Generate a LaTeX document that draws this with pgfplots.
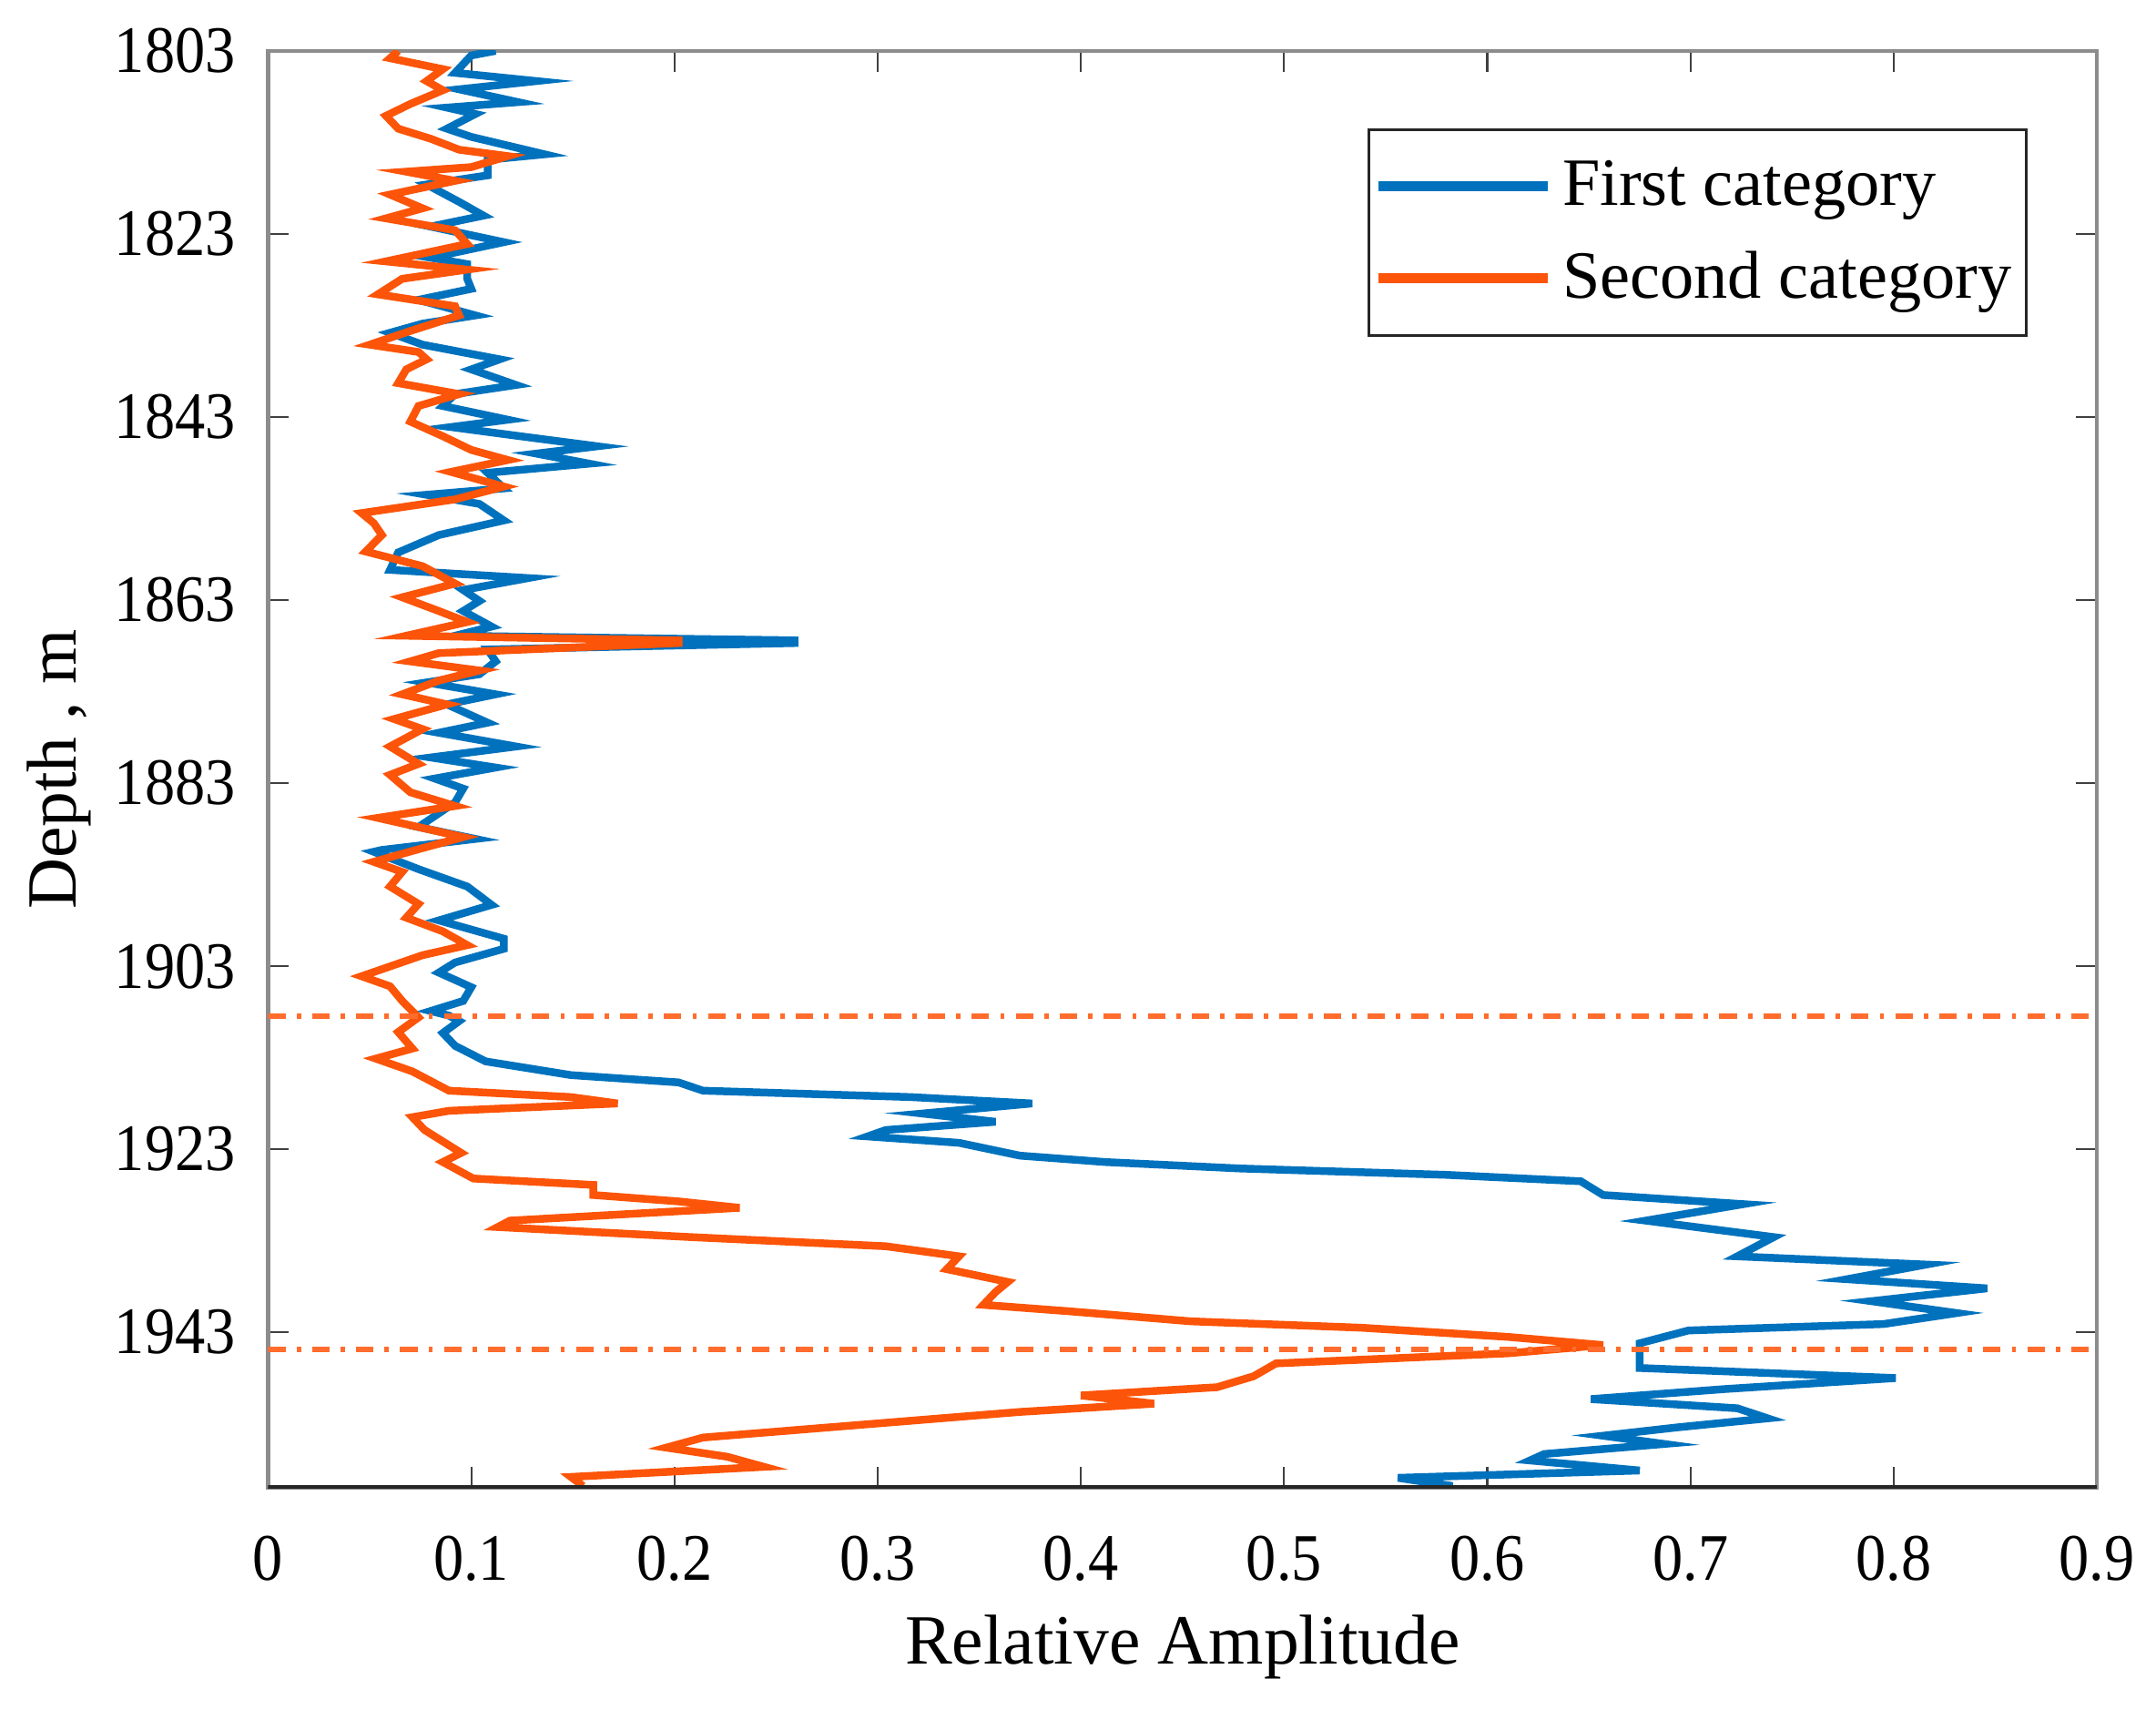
\documentclass[border=0pt]{standalone}
\usepackage{fontspec}
\setmainfont{Liberation Serif}
\usepackage{pgfplots}
\pgfplotsset{compat=1.18}

\definecolor{catblue}{RGB}{0,114,189}
\definecolor{catorange}{RGB}{252,84,8}
\definecolor{limorange}{RGB}{255,108,45}

\begin{document}
\begin{tikzpicture}
\begin{axis}[
    width=13.3cm, height=10.45cm, scale only axis,
    xmin=0, xmax=0.9,
    ymin=1803, ymax=1960,
    y dir=reverse,
    xtick={0,0.1,...,0.9},
    ytick={1803,1823,1843,1863,1883,1903,1923,1943},
    /pgf/number format/assume math mode=true,
    tick label style={font=\fontsize{12.5}{15}\selectfont, yscale=1.1, inner sep=0pt},
    xticklabel style={anchor=north, yshift=-0.31cm,
      /pgf/number format/fixed, /pgf/number format/precision=1},
    yticklabel style={anchor=east, xshift=-0.23cm,
      /pgf/number format/set thousands separator={}},
    label style={font=\fontsize{14.6}{18}\selectfont},
    xlabel={Relative Amplitude},
    ylabel={Depth , m},
    % baselines 1.28cm below and 1.40cm left of the axis box
    xlabel style={at={(axis description cs:0.5,-0.12249)}, anchor=base},
    ylabel style={at={(axis description cs:-0.10526,0.5)}, anchor=base},
    tick align=inside,
    major tick length=0.15cm,
    every tick/.style={black!75, thin},
    axis line style={draw=black!45, line width=0.8pt},
    legend style={at={(0.962,0.946)}, anchor=north east,
      draw=black!85, line width=0.6pt, font=\fontsize{14}{16}\selectfont,
      row sep=4pt, inner xsep=1pt, inner ysep=4.3pt},
    legend cell align=left,
    legend image code/.code={\draw[#1, line width=2pt] (0cm,0cm) -- (1.23cm,0cm);},
]
\addplot[catblue, line width=1.6pt, line join=miter] coordinates {
(0.112,1803.0) (0.100,1803.5) (0.092,1805.4) (0.132,1806.3) (0.094,1807.2)
(0.123,1808.6) (0.088,1809.2) (0.102,1809.9) (0.088,1811.5) (0.100,1812.4)
(0.136,1814.3) (0.108,1814.9) (0.108,1816.6) (0.078,1817.6) (0.094,1819.5)
(0.106,1821.0) (0.080,1822.2) (0.116,1823.9) (0.080,1825.6) (0.098,1826.3)
(0.098,1827.9) (0.100,1829.0) (0.074,1830.2) (0.102,1831.9) (0.076,1832.8)
(0.060,1833.8) (0.076,1835.1) (0.114,1836.7) (0.100,1837.8) (0.122,1839.5)
(0.092,1840.5) (0.086,1841.8) (0.118,1843.3) (0.090,1844.1) (0.124,1845.1)
(0.162,1846.2) (0.132,1847.0) (0.158,1848.1) (0.108,1849.1) (0.116,1850.8)
(0.078,1851.5) (0.104,1852.5) (0.116,1854.3) (0.084,1855.9) (0.064,1857.8)
(0.060,1859.7) (0.128,1860.6) (0.096,1861.9) (0.104,1863.1) (0.096,1864.2)
(0.110,1865.9) (0.092,1866.9) (0.259,1867.4) (0.259,1867.7) (0.108,1868.4)
(0.112,1869.7) (0.104,1871.1) (0.078,1872.0) (0.112,1873.3) (0.088,1874.4)
(0.108,1876.4) (0.084,1877.5) (0.122,1879.0) (0.080,1880.2) (0.112,1881.3)
(0.082,1882.5) (0.096,1883.6) (0.092,1885.1) (0.074,1887.8) (0.102,1889.1)
(0.056,1890.3) (0.052,1890.5) (0.074,1892.4) (0.098,1894.3) (0.110,1896.3)
(0.084,1898.0) (0.116,1900.0) (0.116,1901.1) (0.092,1902.6) (0.084,1903.7)
(0.100,1905.3) (0.096,1906.8) (0.080,1907.9) (0.089,1908.4) (0.094,1909.0)
(0.086,1910.3) (0.092,1911.7) (0.107,1913.4) (0.149,1914.9) (0.202,1915.7)
(0.214,1916.6) (0.316,1917.3) (0.376,1918.0) (0.322,1919.1) (0.358,1920.0)
(0.304,1920.9) (0.295,1921.6) (0.340,1922.3) (0.370,1923.7) (0.412,1924.4)
(0.478,1925.1) (0.580,1925.8) (0.646,1926.5) (0.657,1928.0) (0.726,1929.0)
(0.678,1930.8) (0.741,1932.6) (0.723,1934.7) (0.816,1935.6) (0.777,1937.2)
(0.846,1938.2) (0.789,1939.6) (0.831,1940.9) (0.795,1942.1) (0.699,1942.8)
(0.675,1944.2) (0.675,1946.9) (0.801,1948.0) (0.717,1949.2) (0.651,1950.3)
(0.723,1951.3) (0.738,1952.4) (0.693,1953.4) (0.657,1954.3) (0.687,1955.2)
(0.628,1956.3) (0.621,1957.0) (0.675,1958.1) (0.556,1958.9) (0.583,1959.8)
};
\addlegendentry{First category}
\addplot[catorange, line width=1.6pt, line join=miter] coordinates {
(0.064,1803.0) (0.060,1803.8) (0.086,1805.0) (0.078,1806.3) (0.086,1807.3)
(0.070,1808.8) (0.058,1810.1) (0.064,1811.5) (0.080,1812.6) (0.094,1813.8)
(0.118,1814.5) (0.100,1815.7) (0.068,1816.2) (0.092,1817.2) (0.060,1818.7)
(0.076,1820.2) (0.058,1821.3) (0.092,1822.6) (0.098,1824.1) (0.058,1826.0)
(0.098,1826.9) (0.066,1827.9) (0.054,1829.6) (0.092,1830.9) (0.094,1831.9)
(0.070,1833.6) (0.050,1835.1) (0.074,1835.9) (0.078,1836.7) (0.068,1837.8)
(0.064,1839.3) (0.094,1840.5) (0.074,1841.8) (0.070,1843.5) (0.086,1845.1)
(0.100,1846.6) (0.118,1847.7) (0.090,1849.0) (0.116,1850.6) (0.092,1852.0)
(0.046,1853.5) (0.052,1854.6) (0.056,1855.9) (0.048,1857.7) (0.076,1859.3)
(0.092,1861.2) (0.066,1862.7) (0.084,1864.2) (0.098,1865.4) (0.068,1866.9)
(0.202,1867.4) (0.202,1867.7) (0.084,1868.8) (0.070,1869.7) (0.104,1870.7)
(0.084,1871.8) (0.066,1873.3) (0.088,1874.4) (0.062,1876.0) (0.076,1877.1)
(0.060,1879.0) (0.074,1880.9) (0.060,1882.1) (0.070,1884.0) (0.092,1885.5)
(0.054,1886.8) (0.096,1888.9) (0.076,1890.1) (0.052,1891.6) (0.066,1892.7)
(0.060,1894.3) (0.074,1896.2) (0.068,1897.7) (0.086,1899.2) (0.098,1900.7)
(0.076,1901.8) (0.046,1904.1) (0.060,1905.2) (0.066,1906.8) (0.074,1908.6)
(0.064,1910.2) (0.071,1912.0) (0.053,1913.1) (0.071,1914.5) (0.089,1916.6)
(0.149,1917.3) (0.172,1918.0) (0.089,1918.8) (0.071,1919.5) (0.077,1920.9)
(0.095,1923.4) (0.086,1924.4) (0.101,1926.2) (0.160,1926.9) (0.160,1928.0)
(0.202,1928.7) (0.232,1929.4) (0.119,1930.8) (0.113,1931.5) (0.208,1932.6)
(0.304,1933.6) (0.340,1934.7) (0.334,1936.1) (0.364,1937.5) (0.358,1938.6)
(0.352,1940.0) (0.394,1940.7) (0.454,1941.8) (0.538,1942.5) (0.610,1943.5)
(0.657,1944.4) (0.610,1945.3) (0.496,1946.4) (0.485,1947.8) (0.467,1949.0)
(0.400,1949.9) (0.436,1950.8) (0.370,1951.7) (0.292,1953.1) (0.214,1954.5)
(0.196,1955.6) (0.226,1956.6) (0.244,1957.7) (0.149,1958.8) (0.155,1959.8)
};
\addlegendentry{Second category}
% boundary lines
\addplot[limorange, line width=1.15pt, dash pattern=on 3.6pt off 2.3pt on 0.9pt off 2.3pt, forget plot]
  coordinates {(0,1908.5) (0.9,1908.5)};
\addplot[limorange, line width=1.15pt, dash pattern=on 3.6pt off 2.3pt on 0.9pt off 2.3pt, forget plot]
  coordinates {(0,1944.9) (0.9,1944.9)};
\draw[black!85, line width=1.2pt] (rel axis cs:0,0) -- (rel axis cs:1,0);
\end{axis}
% margins as in the reference
\path ([xshift=-1.95cm, yshift=0.37cm]current axis.north west)
      ([xshift=0.43cm, yshift=-1.61cm]current axis.south east);
\end{tikzpicture}
\end{document}
